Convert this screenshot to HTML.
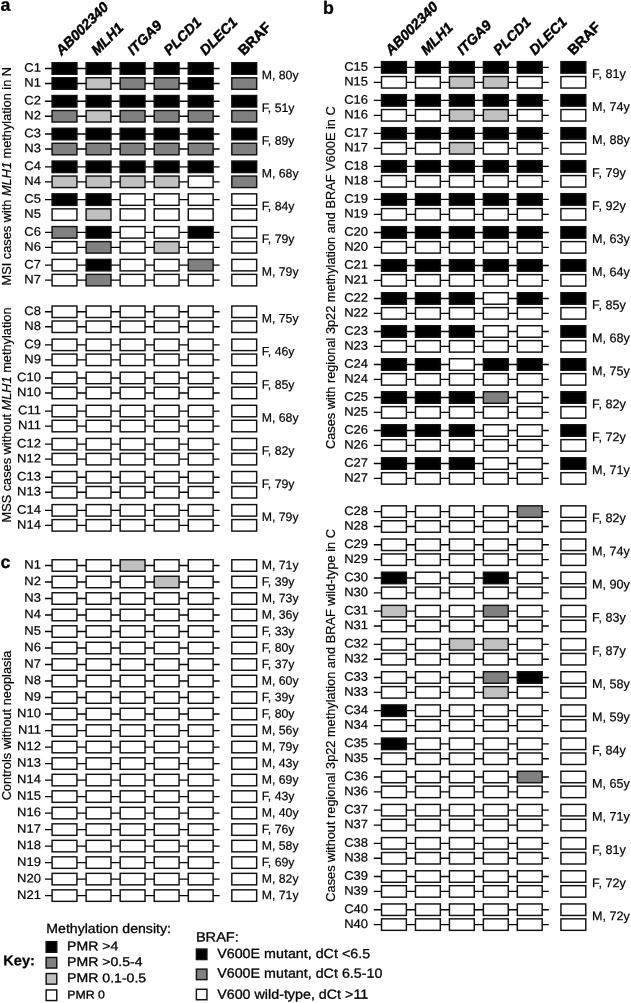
<!DOCTYPE html>
<html lang="en">
<head>
<meta charset="utf-8">
<title>Figure</title>
<style>
html,body{margin:0;padding:0;background:#fff;}
body{width:631px;height:1003px;overflow:hidden;}
svg{display:block;font-family:"Liberation Sans", Arial, Helvetica, sans-serif;}
.ln{stroke:#000;stroke-width:1.35;}
.bx{stroke:#111;stroke-width:1.45;}
.t{fill:#000;stroke:#000;stroke-width:0.2px;}
.rl{font-size:12.4px;}
.v{font-size:12.78px;fill:#000;stroke:#000;stroke-width:0.2px;}
.h{font-size:14.2px;font-weight:bold;fill:#000;stroke:#000;stroke-width:0.45px;}
.pl{font-size:17.8px;font-weight:bold;fill:#000;stroke:#000;stroke-width:0.3px;}
.k{fill:#000;stroke:#000;stroke-width:0.3px;}
.kb{font-weight:bold;fill:#000;stroke:#000;stroke-width:0.25px;}
</style>
</head>
<body>
<svg width="631" height="1003" viewBox="0 0 631 1003">
<rect x="0" y="0" width="631" height="1003" fill="#ffffff"/>
<line x1="45.00" y1="68.50" x2="219.60" y2="68.50" class="ln"/>
<rect x="52.08" y="62.75" width="24.85" height="11.5" fill="#000000" class="bx"/>
<rect x="86.12" y="62.75" width="24.85" height="11.5" fill="#000000" class="bx"/>
<rect x="120.17" y="62.75" width="24.85" height="11.5" fill="#000000" class="bx"/>
<rect x="154.22" y="62.75" width="24.85" height="11.5" fill="#000000" class="bx"/>
<rect x="188.27" y="62.75" width="24.85" height="11.5" fill="#000000" class="bx"/>
<rect x="231.82" y="62.75" width="24.85" height="11.5" fill="#000000" class="bx"/>
<text transform="translate(40.90,71.80) rotate(0.05) scale(1.05,1)" text-anchor="end" class="t rl">C1</text>
<line x1="45.00" y1="83.50" x2="219.60" y2="83.50" class="ln"/>
<rect x="52.08" y="77.75" width="24.85" height="11.5" fill="#000000" class="bx"/>
<rect x="86.12" y="77.75" width="24.85" height="11.5" fill="#c0c0c0" class="bx"/>
<rect x="120.17" y="77.75" width="24.85" height="11.5" fill="#808080" class="bx"/>
<rect x="154.22" y="77.75" width="24.85" height="11.5" fill="#808080" class="bx"/>
<rect x="188.27" y="77.75" width="24.85" height="11.5" fill="#000000" class="bx"/>
<rect x="231.82" y="77.75" width="24.85" height="11.5" fill="#808080" class="bx"/>
<text transform="translate(40.90,86.80) rotate(0.05) scale(1.05,1)" text-anchor="end" class="t rl">N1</text>
<text transform="translate(261.70,79.20) rotate(0.05)" class="t" font-size="12.3">M, 80y</text>
<line x1="45.00" y1="101.27" x2="219.60" y2="101.27" class="ln"/>
<rect x="52.08" y="95.52" width="24.85" height="11.5" fill="#000000" class="bx"/>
<rect x="86.12" y="95.52" width="24.85" height="11.5" fill="#000000" class="bx"/>
<rect x="120.17" y="95.52" width="24.85" height="11.5" fill="#000000" class="bx"/>
<rect x="154.22" y="95.52" width="24.85" height="11.5" fill="#000000" class="bx"/>
<rect x="188.27" y="95.52" width="24.85" height="11.5" fill="#000000" class="bx"/>
<rect x="231.82" y="95.52" width="24.85" height="11.5" fill="#000000" class="bx"/>
<text transform="translate(40.90,104.57) rotate(0.05) scale(1.05,1)" text-anchor="end" class="t rl">C2</text>
<line x1="45.00" y1="116.27" x2="219.60" y2="116.27" class="ln"/>
<rect x="52.08" y="110.52" width="24.85" height="11.5" fill="#808080" class="bx"/>
<rect x="86.12" y="110.52" width="24.85" height="11.5" fill="#c0c0c0" class="bx"/>
<rect x="120.17" y="110.52" width="24.85" height="11.5" fill="#808080" class="bx"/>
<rect x="154.22" y="110.52" width="24.85" height="11.5" fill="#808080" class="bx"/>
<rect x="188.27" y="110.52" width="24.85" height="11.5" fill="#808080" class="bx"/>
<rect x="231.82" y="110.52" width="24.85" height="11.5" fill="#808080" class="bx"/>
<text transform="translate(40.90,119.57) rotate(0.05) scale(1.05,1)" text-anchor="end" class="t rl">N2</text>
<text transform="translate(261.70,111.97) rotate(0.05)" class="t" font-size="12.3">F, 51y</text>
<line x1="45.00" y1="134.04" x2="219.60" y2="134.04" class="ln"/>
<rect x="52.08" y="128.29" width="24.85" height="11.5" fill="#000000" class="bx"/>
<rect x="86.12" y="128.29" width="24.85" height="11.5" fill="#000000" class="bx"/>
<rect x="120.17" y="128.29" width="24.85" height="11.5" fill="#000000" class="bx"/>
<rect x="154.22" y="128.29" width="24.85" height="11.5" fill="#000000" class="bx"/>
<rect x="188.27" y="128.29" width="24.85" height="11.5" fill="#000000" class="bx"/>
<rect x="231.82" y="128.29" width="24.85" height="11.5" fill="#000000" class="bx"/>
<text transform="translate(40.90,137.34) rotate(0.05) scale(1.05,1)" text-anchor="end" class="t rl">C3</text>
<line x1="45.00" y1="149.04" x2="219.60" y2="149.04" class="ln"/>
<rect x="52.08" y="143.29" width="24.85" height="11.5" fill="#808080" class="bx"/>
<rect x="86.12" y="143.29" width="24.85" height="11.5" fill="#808080" class="bx"/>
<rect x="120.17" y="143.29" width="24.85" height="11.5" fill="#808080" class="bx"/>
<rect x="154.22" y="143.29" width="24.85" height="11.5" fill="#808080" class="bx"/>
<rect x="188.27" y="143.29" width="24.85" height="11.5" fill="#808080" class="bx"/>
<rect x="231.82" y="143.29" width="24.85" height="11.5" fill="#808080" class="bx"/>
<text transform="translate(40.90,152.34) rotate(0.05) scale(1.05,1)" text-anchor="end" class="t rl">N3</text>
<text transform="translate(261.70,144.74) rotate(0.05)" class="t" font-size="12.3">F, 89y</text>
<line x1="45.00" y1="166.81" x2="219.60" y2="166.81" class="ln"/>
<rect x="52.08" y="161.06" width="24.85" height="11.5" fill="#000000" class="bx"/>
<rect x="86.12" y="161.06" width="24.85" height="11.5" fill="#000000" class="bx"/>
<rect x="120.17" y="161.06" width="24.85" height="11.5" fill="#000000" class="bx"/>
<rect x="154.22" y="161.06" width="24.85" height="11.5" fill="#000000" class="bx"/>
<rect x="188.27" y="161.06" width="24.85" height="11.5" fill="#000000" class="bx"/>
<rect x="231.82" y="161.06" width="24.85" height="11.5" fill="#000000" class="bx"/>
<text transform="translate(40.90,170.11) rotate(0.05) scale(1.05,1)" text-anchor="end" class="t rl">C4</text>
<line x1="45.00" y1="181.81" x2="219.60" y2="181.81" class="ln"/>
<rect x="52.08" y="176.06" width="24.85" height="11.5" fill="#c0c0c0" class="bx"/>
<rect x="86.12" y="176.06" width="24.85" height="11.5" fill="#c0c0c0" class="bx"/>
<rect x="120.17" y="176.06" width="24.85" height="11.5" fill="#c0c0c0" class="bx"/>
<rect x="154.22" y="176.06" width="24.85" height="11.5" fill="#c0c0c0" class="bx"/>
<rect x="188.27" y="176.06" width="24.85" height="11.5" fill="#ffffff" class="bx"/>
<rect x="231.82" y="176.06" width="24.85" height="11.5" fill="#808080" class="bx"/>
<text transform="translate(40.90,185.11) rotate(0.05) scale(1.05,1)" text-anchor="end" class="t rl">N4</text>
<text transform="translate(261.70,177.51) rotate(0.05)" class="t" font-size="12.3">M, 68y</text>
<line x1="45.00" y1="199.58" x2="219.60" y2="199.58" class="ln"/>
<rect x="52.08" y="193.83" width="24.85" height="11.5" fill="#000000" class="bx"/>
<rect x="86.12" y="193.83" width="24.85" height="11.5" fill="#000000" class="bx"/>
<rect x="120.17" y="193.83" width="24.85" height="11.5" fill="#ffffff" class="bx"/>
<rect x="154.22" y="193.83" width="24.85" height="11.5" fill="#ffffff" class="bx"/>
<rect x="188.27" y="193.83" width="24.85" height="11.5" fill="#ffffff" class="bx"/>
<rect x="231.82" y="193.83" width="24.85" height="11.5" fill="#ffffff" class="bx"/>
<text transform="translate(40.90,202.88) rotate(0.05) scale(1.05,1)" text-anchor="end" class="t rl">C5</text>
<rect x="52.08" y="208.83" width="24.85" height="11.5" fill="#ffffff" class="bx"/>
<rect x="86.12" y="208.83" width="24.85" height="11.5" fill="#c0c0c0" class="bx"/>
<rect x="120.17" y="208.83" width="24.85" height="11.5" fill="#ffffff" class="bx"/>
<rect x="154.22" y="208.83" width="24.85" height="11.5" fill="#ffffff" class="bx"/>
<rect x="188.27" y="208.83" width="24.85" height="11.5" fill="#ffffff" class="bx"/>
<rect x="231.82" y="208.83" width="24.85" height="11.5" fill="#ffffff" class="bx"/>
<text transform="translate(40.90,217.88) rotate(0.05) scale(1.05,1)" text-anchor="end" class="t rl">N5</text>
<text transform="translate(261.70,210.28) rotate(0.05)" class="t" font-size="12.3">F, 84y</text>
<line x1="45.00" y1="232.35" x2="219.60" y2="232.35" class="ln"/>
<rect x="52.08" y="226.60" width="24.85" height="11.5" fill="#808080" class="bx"/>
<rect x="86.12" y="226.60" width="24.85" height="11.5" fill="#000000" class="bx"/>
<rect x="120.17" y="226.60" width="24.85" height="11.5" fill="#ffffff" class="bx"/>
<rect x="154.22" y="226.60" width="24.85" height="11.5" fill="#ffffff" class="bx"/>
<rect x="188.27" y="226.60" width="24.85" height="11.5" fill="#000000" class="bx"/>
<rect x="231.82" y="226.60" width="24.85" height="11.5" fill="#ffffff" class="bx"/>
<text transform="translate(40.90,235.65) rotate(0.05) scale(1.05,1)" text-anchor="end" class="t rl">C6</text>
<line x1="45.00" y1="247.35" x2="219.60" y2="247.35" class="ln"/>
<rect x="52.08" y="241.60" width="24.85" height="11.5" fill="#ffffff" class="bx"/>
<rect x="86.12" y="241.60" width="24.85" height="11.5" fill="#808080" class="bx"/>
<rect x="120.17" y="241.60" width="24.85" height="11.5" fill="#ffffff" class="bx"/>
<rect x="154.22" y="241.60" width="24.85" height="11.5" fill="#c0c0c0" class="bx"/>
<rect x="188.27" y="241.60" width="24.85" height="11.5" fill="#ffffff" class="bx"/>
<rect x="231.82" y="241.60" width="24.85" height="11.5" fill="#ffffff" class="bx"/>
<text transform="translate(40.90,250.65) rotate(0.05) scale(1.05,1)" text-anchor="end" class="t rl">N6</text>
<text transform="translate(261.70,243.05) rotate(0.05)" class="t" font-size="12.3">F, 79y</text>
<line x1="45.00" y1="265.12" x2="219.60" y2="265.12" class="ln"/>
<rect x="52.08" y="259.37" width="24.85" height="11.5" fill="#ffffff" class="bx"/>
<rect x="86.12" y="259.37" width="24.85" height="11.5" fill="#000000" class="bx"/>
<rect x="120.17" y="259.37" width="24.85" height="11.5" fill="#ffffff" class="bx"/>
<rect x="154.22" y="259.37" width="24.85" height="11.5" fill="#ffffff" class="bx"/>
<rect x="188.27" y="259.37" width="24.85" height="11.5" fill="#808080" class="bx"/>
<rect x="231.82" y="259.37" width="24.85" height="11.5" fill="#ffffff" class="bx"/>
<text transform="translate(40.90,268.42) rotate(0.05) scale(1.05,1)" text-anchor="end" class="t rl">C7</text>
<line x1="45.00" y1="280.12" x2="219.60" y2="280.12" class="ln"/>
<rect x="52.08" y="274.37" width="24.85" height="11.5" fill="#ffffff" class="bx"/>
<rect x="86.12" y="274.37" width="24.85" height="11.5" fill="#808080" class="bx"/>
<rect x="120.17" y="274.37" width="24.85" height="11.5" fill="#ffffff" class="bx"/>
<rect x="154.22" y="274.37" width="24.85" height="11.5" fill="#ffffff" class="bx"/>
<rect x="188.27" y="274.37" width="24.85" height="11.5" fill="#ffffff" class="bx"/>
<rect x="231.82" y="274.37" width="24.85" height="11.5" fill="#ffffff" class="bx"/>
<text transform="translate(40.90,283.42) rotate(0.05) scale(1.05,1)" text-anchor="end" class="t rl">N7</text>
<text transform="translate(261.70,275.82) rotate(0.05)" class="t" font-size="12.3">M, 79y</text>
<line x1="45.00" y1="311.75" x2="219.60" y2="311.75" class="ln"/>
<rect x="52.08" y="306.00" width="24.85" height="11.5" fill="#ffffff" class="bx"/>
<rect x="86.12" y="306.00" width="24.85" height="11.5" fill="#ffffff" class="bx"/>
<rect x="120.17" y="306.00" width="24.85" height="11.5" fill="#ffffff" class="bx"/>
<rect x="154.22" y="306.00" width="24.85" height="11.5" fill="#ffffff" class="bx"/>
<rect x="188.27" y="306.00" width="24.85" height="11.5" fill="#ffffff" class="bx"/>
<rect x="231.82" y="306.00" width="24.85" height="11.5" fill="#ffffff" class="bx"/>
<text transform="translate(40.90,315.05) rotate(0.05) scale(1.05,1)" text-anchor="end" class="t rl">C8</text>
<line x1="45.00" y1="326.75" x2="219.60" y2="326.75" class="ln"/>
<rect x="52.08" y="321.00" width="24.85" height="11.5" fill="#ffffff" class="bx"/>
<rect x="86.12" y="321.00" width="24.85" height="11.5" fill="#ffffff" class="bx"/>
<rect x="120.17" y="321.00" width="24.85" height="11.5" fill="#ffffff" class="bx"/>
<rect x="154.22" y="321.00" width="24.85" height="11.5" fill="#ffffff" class="bx"/>
<rect x="188.27" y="321.00" width="24.85" height="11.5" fill="#ffffff" class="bx"/>
<rect x="231.82" y="321.00" width="24.85" height="11.5" fill="#ffffff" class="bx"/>
<text transform="translate(40.90,330.05) rotate(0.05) scale(1.05,1)" text-anchor="end" class="t rl">N8</text>
<text transform="translate(261.70,322.45) rotate(0.05)" class="t" font-size="12.3">M, 75y</text>
<line x1="45.00" y1="344.85" x2="219.60" y2="344.85" class="ln"/>
<rect x="52.08" y="339.10" width="24.85" height="11.5" fill="#ffffff" class="bx"/>
<rect x="86.12" y="339.10" width="24.85" height="11.5" fill="#ffffff" class="bx"/>
<rect x="120.17" y="339.10" width="24.85" height="11.5" fill="#ffffff" class="bx"/>
<rect x="154.22" y="339.10" width="24.85" height="11.5" fill="#ffffff" class="bx"/>
<rect x="188.27" y="339.10" width="24.85" height="11.5" fill="#ffffff" class="bx"/>
<rect x="231.82" y="339.10" width="24.85" height="11.5" fill="#ffffff" class="bx"/>
<text transform="translate(40.90,348.15) rotate(0.05) scale(1.05,1)" text-anchor="end" class="t rl">C9</text>
<line x1="45.00" y1="359.85" x2="219.60" y2="359.85" class="ln"/>
<rect x="52.08" y="354.10" width="24.85" height="11.5" fill="#ffffff" class="bx"/>
<rect x="86.12" y="354.10" width="24.85" height="11.5" fill="#ffffff" class="bx"/>
<rect x="120.17" y="354.10" width="24.85" height="11.5" fill="#ffffff" class="bx"/>
<rect x="154.22" y="354.10" width="24.85" height="11.5" fill="#ffffff" class="bx"/>
<rect x="188.27" y="354.10" width="24.85" height="11.5" fill="#ffffff" class="bx"/>
<rect x="231.82" y="354.10" width="24.85" height="11.5" fill="#ffffff" class="bx"/>
<text transform="translate(40.90,363.15) rotate(0.05) scale(1.05,1)" text-anchor="end" class="t rl">N9</text>
<text transform="translate(261.70,355.55) rotate(0.05)" class="t" font-size="12.3">F, 46y</text>
<line x1="45.00" y1="377.95" x2="219.60" y2="377.95" class="ln"/>
<rect x="52.08" y="372.20" width="24.85" height="11.5" fill="#ffffff" class="bx"/>
<rect x="86.12" y="372.20" width="24.85" height="11.5" fill="#ffffff" class="bx"/>
<rect x="120.17" y="372.20" width="24.85" height="11.5" fill="#ffffff" class="bx"/>
<rect x="154.22" y="372.20" width="24.85" height="11.5" fill="#ffffff" class="bx"/>
<rect x="188.27" y="372.20" width="24.85" height="11.5" fill="#ffffff" class="bx"/>
<rect x="231.82" y="372.20" width="24.85" height="11.5" fill="#ffffff" class="bx"/>
<text transform="translate(40.90,381.25) rotate(0.05) scale(1.05,1)" text-anchor="end" class="t rl">C10</text>
<line x1="45.00" y1="392.95" x2="219.60" y2="392.95" class="ln"/>
<rect x="52.08" y="387.20" width="24.85" height="11.5" fill="#ffffff" class="bx"/>
<rect x="86.12" y="387.20" width="24.85" height="11.5" fill="#ffffff" class="bx"/>
<rect x="120.17" y="387.20" width="24.85" height="11.5" fill="#ffffff" class="bx"/>
<rect x="154.22" y="387.20" width="24.85" height="11.5" fill="#ffffff" class="bx"/>
<rect x="188.27" y="387.20" width="24.85" height="11.5" fill="#ffffff" class="bx"/>
<rect x="231.82" y="387.20" width="24.85" height="11.5" fill="#ffffff" class="bx"/>
<text transform="translate(40.90,396.25) rotate(0.05) scale(1.05,1)" text-anchor="end" class="t rl">N10</text>
<text transform="translate(261.70,388.65) rotate(0.05)" class="t" font-size="12.3">F, 85y</text>
<line x1="45.00" y1="411.05" x2="219.60" y2="411.05" class="ln"/>
<rect x="52.08" y="405.30" width="24.85" height="11.5" fill="#ffffff" class="bx"/>
<rect x="86.12" y="405.30" width="24.85" height="11.5" fill="#ffffff" class="bx"/>
<rect x="120.17" y="405.30" width="24.85" height="11.5" fill="#ffffff" class="bx"/>
<rect x="154.22" y="405.30" width="24.85" height="11.5" fill="#ffffff" class="bx"/>
<rect x="188.27" y="405.30" width="24.85" height="11.5" fill="#ffffff" class="bx"/>
<rect x="231.82" y="405.30" width="24.85" height="11.5" fill="#ffffff" class="bx"/>
<text transform="translate(40.90,414.35) rotate(0.05) scale(1.05,1)" text-anchor="end" class="t rl">C11</text>
<line x1="45.00" y1="426.05" x2="219.60" y2="426.05" class="ln"/>
<rect x="52.08" y="420.30" width="24.85" height="11.5" fill="#ffffff" class="bx"/>
<rect x="86.12" y="420.30" width="24.85" height="11.5" fill="#ffffff" class="bx"/>
<rect x="120.17" y="420.30" width="24.85" height="11.5" fill="#ffffff" class="bx"/>
<rect x="154.22" y="420.30" width="24.85" height="11.5" fill="#ffffff" class="bx"/>
<rect x="188.27" y="420.30" width="24.85" height="11.5" fill="#ffffff" class="bx"/>
<rect x="231.82" y="420.30" width="24.85" height="11.5" fill="#ffffff" class="bx"/>
<text transform="translate(40.90,429.35) rotate(0.05) scale(1.05,1)" text-anchor="end" class="t rl">N11</text>
<text transform="translate(261.70,421.75) rotate(0.05)" class="t" font-size="12.3">M, 68y</text>
<line x1="45.00" y1="444.15" x2="219.60" y2="444.15" class="ln"/>
<rect x="52.08" y="438.40" width="24.85" height="11.5" fill="#ffffff" class="bx"/>
<rect x="86.12" y="438.40" width="24.85" height="11.5" fill="#ffffff" class="bx"/>
<rect x="120.17" y="438.40" width="24.85" height="11.5" fill="#ffffff" class="bx"/>
<rect x="154.22" y="438.40" width="24.85" height="11.5" fill="#ffffff" class="bx"/>
<rect x="188.27" y="438.40" width="24.85" height="11.5" fill="#ffffff" class="bx"/>
<rect x="231.82" y="438.40" width="24.85" height="11.5" fill="#ffffff" class="bx"/>
<text transform="translate(40.90,447.45) rotate(0.05) scale(1.05,1)" text-anchor="end" class="t rl">C12</text>
<line x1="45.00" y1="459.15" x2="219.60" y2="459.15" class="ln"/>
<rect x="52.08" y="453.40" width="24.85" height="11.5" fill="#ffffff" class="bx"/>
<rect x="86.12" y="453.40" width="24.85" height="11.5" fill="#ffffff" class="bx"/>
<rect x="120.17" y="453.40" width="24.85" height="11.5" fill="#ffffff" class="bx"/>
<rect x="154.22" y="453.40" width="24.85" height="11.5" fill="#ffffff" class="bx"/>
<rect x="188.27" y="453.40" width="24.85" height="11.5" fill="#ffffff" class="bx"/>
<rect x="231.82" y="453.40" width="24.85" height="11.5" fill="#ffffff" class="bx"/>
<text transform="translate(40.90,462.45) rotate(0.05) scale(1.05,1)" text-anchor="end" class="t rl">N12</text>
<text transform="translate(261.70,454.85) rotate(0.05)" class="t" font-size="12.3">F, 82y</text>
<line x1="45.00" y1="477.25" x2="219.60" y2="477.25" class="ln"/>
<rect x="52.08" y="471.50" width="24.85" height="11.5" fill="#ffffff" class="bx"/>
<rect x="86.12" y="471.50" width="24.85" height="11.5" fill="#ffffff" class="bx"/>
<rect x="120.17" y="471.50" width="24.85" height="11.5" fill="#ffffff" class="bx"/>
<rect x="154.22" y="471.50" width="24.85" height="11.5" fill="#ffffff" class="bx"/>
<rect x="188.27" y="471.50" width="24.85" height="11.5" fill="#ffffff" class="bx"/>
<rect x="231.82" y="471.50" width="24.85" height="11.5" fill="#ffffff" class="bx"/>
<text transform="translate(40.90,480.55) rotate(0.05) scale(1.05,1)" text-anchor="end" class="t rl">C13</text>
<line x1="45.00" y1="492.25" x2="219.60" y2="492.25" class="ln"/>
<rect x="52.08" y="486.50" width="24.85" height="11.5" fill="#ffffff" class="bx"/>
<rect x="86.12" y="486.50" width="24.85" height="11.5" fill="#ffffff" class="bx"/>
<rect x="120.17" y="486.50" width="24.85" height="11.5" fill="#ffffff" class="bx"/>
<rect x="154.22" y="486.50" width="24.85" height="11.5" fill="#ffffff" class="bx"/>
<rect x="188.27" y="486.50" width="24.85" height="11.5" fill="#ffffff" class="bx"/>
<rect x="231.82" y="486.50" width="24.85" height="11.5" fill="#ffffff" class="bx"/>
<text transform="translate(40.90,495.55) rotate(0.05) scale(1.05,1)" text-anchor="end" class="t rl">N13</text>
<text transform="translate(261.70,487.95) rotate(0.05)" class="t" font-size="12.3">F, 79y</text>
<line x1="45.00" y1="510.35" x2="219.60" y2="510.35" class="ln"/>
<rect x="52.08" y="504.60" width="24.85" height="11.5" fill="#ffffff" class="bx"/>
<rect x="86.12" y="504.60" width="24.85" height="11.5" fill="#ffffff" class="bx"/>
<rect x="120.17" y="504.60" width="24.85" height="11.5" fill="#ffffff" class="bx"/>
<rect x="154.22" y="504.60" width="24.85" height="11.5" fill="#ffffff" class="bx"/>
<rect x="188.27" y="504.60" width="24.85" height="11.5" fill="#ffffff" class="bx"/>
<rect x="231.82" y="504.60" width="24.85" height="11.5" fill="#ffffff" class="bx"/>
<text transform="translate(40.90,513.65) rotate(0.05) scale(1.05,1)" text-anchor="end" class="t rl">C14</text>
<line x1="45.00" y1="525.35" x2="219.60" y2="525.35" class="ln"/>
<rect x="52.08" y="519.60" width="24.85" height="11.5" fill="#ffffff" class="bx"/>
<rect x="86.12" y="519.60" width="24.85" height="11.5" fill="#ffffff" class="bx"/>
<rect x="120.17" y="519.60" width="24.85" height="11.5" fill="#ffffff" class="bx"/>
<rect x="154.22" y="519.60" width="24.85" height="11.5" fill="#ffffff" class="bx"/>
<rect x="188.27" y="519.60" width="24.85" height="11.5" fill="#ffffff" class="bx"/>
<rect x="231.82" y="519.60" width="24.85" height="11.5" fill="#ffffff" class="bx"/>
<text transform="translate(40.90,528.65) rotate(0.05) scale(1.05,1)" text-anchor="end" class="t rl">N14</text>
<text transform="translate(261.70,521.05) rotate(0.05)" class="t" font-size="12.3">M, 79y</text>
<line x1="45.00" y1="565.50" x2="219.60" y2="565.50" class="ln"/>
<rect x="52.08" y="559.75" width="24.85" height="11.5" fill="#ffffff" class="bx"/>
<rect x="86.12" y="559.75" width="24.85" height="11.5" fill="#ffffff" class="bx"/>
<rect x="120.17" y="559.75" width="24.85" height="11.5" fill="#c0c0c0" class="bx"/>
<rect x="154.22" y="559.75" width="24.85" height="11.5" fill="#ffffff" class="bx"/>
<rect x="188.27" y="559.75" width="24.85" height="11.5" fill="#ffffff" class="bx"/>
<rect x="231.82" y="559.75" width="24.85" height="11.5" fill="#ffffff" class="bx"/>
<text transform="translate(40.90,568.80) rotate(0.05) scale(1.05,1)" text-anchor="end" class="t rl">N1</text>
<text transform="translate(261.70,569.20) rotate(0.05)" class="t" font-size="12.3">M, 71y</text>
<line x1="45.00" y1="582.00" x2="219.60" y2="582.00" class="ln"/>
<rect x="52.08" y="576.25" width="24.85" height="11.5" fill="#ffffff" class="bx"/>
<rect x="86.12" y="576.25" width="24.85" height="11.5" fill="#ffffff" class="bx"/>
<rect x="120.17" y="576.25" width="24.85" height="11.5" fill="#ffffff" class="bx"/>
<rect x="154.22" y="576.25" width="24.85" height="11.5" fill="#c0c0c0" class="bx"/>
<rect x="188.27" y="576.25" width="24.85" height="11.5" fill="#ffffff" class="bx"/>
<rect x="231.82" y="576.25" width="24.85" height="11.5" fill="#ffffff" class="bx"/>
<text transform="translate(40.90,585.30) rotate(0.05) scale(1.05,1)" text-anchor="end" class="t rl">N2</text>
<text transform="translate(261.70,585.71) rotate(0.05)" class="t" font-size="12.3">F, 39y</text>
<line x1="45.00" y1="598.51" x2="219.60" y2="598.51" class="ln"/>
<rect x="52.08" y="592.76" width="24.85" height="11.5" fill="#ffffff" class="bx"/>
<rect x="86.12" y="592.76" width="24.85" height="11.5" fill="#ffffff" class="bx"/>
<rect x="120.17" y="592.76" width="24.85" height="11.5" fill="#ffffff" class="bx"/>
<rect x="154.22" y="592.76" width="24.85" height="11.5" fill="#ffffff" class="bx"/>
<rect x="188.27" y="592.76" width="24.85" height="11.5" fill="#ffffff" class="bx"/>
<rect x="231.82" y="592.76" width="24.85" height="11.5" fill="#ffffff" class="bx"/>
<text transform="translate(40.90,601.81) rotate(0.05) scale(1.05,1)" text-anchor="end" class="t rl">N3</text>
<text transform="translate(261.70,602.21) rotate(0.05)" class="t" font-size="12.3">M, 73y</text>
<line x1="45.00" y1="615.01" x2="219.60" y2="615.01" class="ln"/>
<rect x="52.08" y="609.26" width="24.85" height="11.5" fill="#ffffff" class="bx"/>
<rect x="86.12" y="609.26" width="24.85" height="11.5" fill="#ffffff" class="bx"/>
<rect x="120.17" y="609.26" width="24.85" height="11.5" fill="#ffffff" class="bx"/>
<rect x="154.22" y="609.26" width="24.85" height="11.5" fill="#ffffff" class="bx"/>
<rect x="188.27" y="609.26" width="24.85" height="11.5" fill="#ffffff" class="bx"/>
<rect x="231.82" y="609.26" width="24.85" height="11.5" fill="#ffffff" class="bx"/>
<text transform="translate(40.90,618.31) rotate(0.05) scale(1.05,1)" text-anchor="end" class="t rl">N4</text>
<text transform="translate(261.70,618.72) rotate(0.05)" class="t" font-size="12.3">M, 36y</text>
<line x1="45.00" y1="631.52" x2="219.60" y2="631.52" class="ln"/>
<rect x="52.08" y="625.77" width="24.85" height="11.5" fill="#ffffff" class="bx"/>
<rect x="86.12" y="625.77" width="24.85" height="11.5" fill="#ffffff" class="bx"/>
<rect x="120.17" y="625.77" width="24.85" height="11.5" fill="#ffffff" class="bx"/>
<rect x="154.22" y="625.77" width="24.85" height="11.5" fill="#ffffff" class="bx"/>
<rect x="188.27" y="625.77" width="24.85" height="11.5" fill="#ffffff" class="bx"/>
<rect x="231.82" y="625.77" width="24.85" height="11.5" fill="#ffffff" class="bx"/>
<text transform="translate(40.90,634.82) rotate(0.05) scale(1.05,1)" text-anchor="end" class="t rl">N5</text>
<text transform="translate(261.70,635.22) rotate(0.05)" class="t" font-size="12.3">F, 33y</text>
<line x1="45.00" y1="648.02" x2="219.60" y2="648.02" class="ln"/>
<rect x="52.08" y="642.27" width="24.85" height="11.5" fill="#ffffff" class="bx"/>
<rect x="86.12" y="642.27" width="24.85" height="11.5" fill="#ffffff" class="bx"/>
<rect x="120.17" y="642.27" width="24.85" height="11.5" fill="#ffffff" class="bx"/>
<rect x="154.22" y="642.27" width="24.85" height="11.5" fill="#ffffff" class="bx"/>
<rect x="188.27" y="642.27" width="24.85" height="11.5" fill="#ffffff" class="bx"/>
<rect x="231.82" y="642.27" width="24.85" height="11.5" fill="#ffffff" class="bx"/>
<text transform="translate(40.90,651.32) rotate(0.05) scale(1.05,1)" text-anchor="end" class="t rl">N6</text>
<text transform="translate(261.70,651.73) rotate(0.05)" class="t" font-size="12.3">F, 80y</text>
<line x1="45.00" y1="664.53" x2="219.60" y2="664.53" class="ln"/>
<rect x="52.08" y="658.78" width="24.85" height="11.5" fill="#ffffff" class="bx"/>
<rect x="86.12" y="658.78" width="24.85" height="11.5" fill="#ffffff" class="bx"/>
<rect x="120.17" y="658.78" width="24.85" height="11.5" fill="#ffffff" class="bx"/>
<rect x="154.22" y="658.78" width="24.85" height="11.5" fill="#ffffff" class="bx"/>
<rect x="188.27" y="658.78" width="24.85" height="11.5" fill="#ffffff" class="bx"/>
<rect x="231.82" y="658.78" width="24.85" height="11.5" fill="#ffffff" class="bx"/>
<text transform="translate(40.90,667.83) rotate(0.05) scale(1.05,1)" text-anchor="end" class="t rl">N7</text>
<text transform="translate(261.70,668.23) rotate(0.05)" class="t" font-size="12.3">F, 37y</text>
<line x1="45.00" y1="681.03" x2="219.60" y2="681.03" class="ln"/>
<rect x="52.08" y="675.28" width="24.85" height="11.5" fill="#ffffff" class="bx"/>
<rect x="86.12" y="675.28" width="24.85" height="11.5" fill="#ffffff" class="bx"/>
<rect x="120.17" y="675.28" width="24.85" height="11.5" fill="#ffffff" class="bx"/>
<rect x="154.22" y="675.28" width="24.85" height="11.5" fill="#ffffff" class="bx"/>
<rect x="188.27" y="675.28" width="24.85" height="11.5" fill="#ffffff" class="bx"/>
<rect x="231.82" y="675.28" width="24.85" height="11.5" fill="#ffffff" class="bx"/>
<text transform="translate(40.90,684.33) rotate(0.05) scale(1.05,1)" text-anchor="end" class="t rl">N8</text>
<text transform="translate(261.70,684.74) rotate(0.05)" class="t" font-size="12.3">M, 60y</text>
<line x1="45.00" y1="697.54" x2="219.60" y2="697.54" class="ln"/>
<rect x="52.08" y="691.79" width="24.85" height="11.5" fill="#ffffff" class="bx"/>
<rect x="86.12" y="691.79" width="24.85" height="11.5" fill="#ffffff" class="bx"/>
<rect x="120.17" y="691.79" width="24.85" height="11.5" fill="#ffffff" class="bx"/>
<rect x="154.22" y="691.79" width="24.85" height="11.5" fill="#ffffff" class="bx"/>
<rect x="188.27" y="691.79" width="24.85" height="11.5" fill="#ffffff" class="bx"/>
<rect x="231.82" y="691.79" width="24.85" height="11.5" fill="#ffffff" class="bx"/>
<text transform="translate(40.90,700.84) rotate(0.05) scale(1.05,1)" text-anchor="end" class="t rl">N9</text>
<text transform="translate(261.70,701.24) rotate(0.05)" class="t" font-size="12.3">F, 39y</text>
<line x1="45.00" y1="714.04" x2="219.60" y2="714.04" class="ln"/>
<rect x="52.08" y="708.29" width="24.85" height="11.5" fill="#ffffff" class="bx"/>
<rect x="86.12" y="708.29" width="24.85" height="11.5" fill="#ffffff" class="bx"/>
<rect x="120.17" y="708.29" width="24.85" height="11.5" fill="#ffffff" class="bx"/>
<rect x="154.22" y="708.29" width="24.85" height="11.5" fill="#ffffff" class="bx"/>
<rect x="188.27" y="708.29" width="24.85" height="11.5" fill="#ffffff" class="bx"/>
<rect x="231.82" y="708.29" width="24.85" height="11.5" fill="#ffffff" class="bx"/>
<text transform="translate(40.90,717.34) rotate(0.05) scale(1.05,1)" text-anchor="end" class="t rl">N10</text>
<text transform="translate(261.70,717.75) rotate(0.05)" class="t" font-size="12.3">F, 80y</text>
<line x1="45.00" y1="730.55" x2="219.60" y2="730.55" class="ln"/>
<rect x="52.08" y="724.80" width="24.85" height="11.5" fill="#ffffff" class="bx"/>
<rect x="86.12" y="724.80" width="24.85" height="11.5" fill="#ffffff" class="bx"/>
<rect x="120.17" y="724.80" width="24.85" height="11.5" fill="#ffffff" class="bx"/>
<rect x="154.22" y="724.80" width="24.85" height="11.5" fill="#ffffff" class="bx"/>
<rect x="188.27" y="724.80" width="24.85" height="11.5" fill="#ffffff" class="bx"/>
<rect x="231.82" y="724.80" width="24.85" height="11.5" fill="#ffffff" class="bx"/>
<text transform="translate(40.90,733.85) rotate(0.05) scale(1.05,1)" text-anchor="end" class="t rl">N11</text>
<text transform="translate(261.70,734.25) rotate(0.05)" class="t" font-size="12.3">M, 56y</text>
<line x1="45.00" y1="747.05" x2="219.60" y2="747.05" class="ln"/>
<rect x="52.08" y="741.30" width="24.85" height="11.5" fill="#ffffff" class="bx"/>
<rect x="86.12" y="741.30" width="24.85" height="11.5" fill="#ffffff" class="bx"/>
<rect x="120.17" y="741.30" width="24.85" height="11.5" fill="#ffffff" class="bx"/>
<rect x="154.22" y="741.30" width="24.85" height="11.5" fill="#ffffff" class="bx"/>
<rect x="188.27" y="741.30" width="24.85" height="11.5" fill="#ffffff" class="bx"/>
<rect x="231.82" y="741.30" width="24.85" height="11.5" fill="#ffffff" class="bx"/>
<text transform="translate(40.90,750.35) rotate(0.05) scale(1.05,1)" text-anchor="end" class="t rl">N12</text>
<text transform="translate(261.70,750.75) rotate(0.05)" class="t" font-size="12.3">M, 79y</text>
<line x1="45.00" y1="763.56" x2="219.60" y2="763.56" class="ln"/>
<rect x="52.08" y="757.81" width="24.85" height="11.5" fill="#ffffff" class="bx"/>
<rect x="86.12" y="757.81" width="24.85" height="11.5" fill="#ffffff" class="bx"/>
<rect x="120.17" y="757.81" width="24.85" height="11.5" fill="#ffffff" class="bx"/>
<rect x="154.22" y="757.81" width="24.85" height="11.5" fill="#ffffff" class="bx"/>
<rect x="188.27" y="757.81" width="24.85" height="11.5" fill="#ffffff" class="bx"/>
<rect x="231.82" y="757.81" width="24.85" height="11.5" fill="#ffffff" class="bx"/>
<text transform="translate(40.90,766.86) rotate(0.05) scale(1.05,1)" text-anchor="end" class="t rl">N13</text>
<text transform="translate(261.70,767.26) rotate(0.05)" class="t" font-size="12.3">M, 43y</text>
<line x1="45.00" y1="780.07" x2="219.60" y2="780.07" class="ln"/>
<rect x="52.08" y="774.32" width="24.85" height="11.5" fill="#ffffff" class="bx"/>
<rect x="86.12" y="774.32" width="24.85" height="11.5" fill="#ffffff" class="bx"/>
<rect x="120.17" y="774.32" width="24.85" height="11.5" fill="#ffffff" class="bx"/>
<rect x="154.22" y="774.32" width="24.85" height="11.5" fill="#ffffff" class="bx"/>
<rect x="188.27" y="774.32" width="24.85" height="11.5" fill="#ffffff" class="bx"/>
<rect x="231.82" y="774.32" width="24.85" height="11.5" fill="#ffffff" class="bx"/>
<text transform="translate(40.90,783.37) rotate(0.05) scale(1.05,1)" text-anchor="end" class="t rl">N14</text>
<text transform="translate(261.70,783.77) rotate(0.05)" class="t" font-size="12.3">M, 69y</text>
<line x1="45.00" y1="796.57" x2="219.60" y2="796.57" class="ln"/>
<rect x="52.08" y="790.82" width="24.85" height="11.5" fill="#ffffff" class="bx"/>
<rect x="86.12" y="790.82" width="24.85" height="11.5" fill="#ffffff" class="bx"/>
<rect x="120.17" y="790.82" width="24.85" height="11.5" fill="#ffffff" class="bx"/>
<rect x="154.22" y="790.82" width="24.85" height="11.5" fill="#ffffff" class="bx"/>
<rect x="188.27" y="790.82" width="24.85" height="11.5" fill="#ffffff" class="bx"/>
<rect x="231.82" y="790.82" width="24.85" height="11.5" fill="#ffffff" class="bx"/>
<text transform="translate(40.90,799.87) rotate(0.05) scale(1.05,1)" text-anchor="end" class="t rl">N15</text>
<text transform="translate(261.70,800.27) rotate(0.05)" class="t" font-size="12.3">F, 43y</text>
<line x1="45.00" y1="813.08" x2="219.60" y2="813.08" class="ln"/>
<rect x="52.08" y="807.33" width="24.85" height="11.5" fill="#ffffff" class="bx"/>
<rect x="86.12" y="807.33" width="24.85" height="11.5" fill="#ffffff" class="bx"/>
<rect x="120.17" y="807.33" width="24.85" height="11.5" fill="#ffffff" class="bx"/>
<rect x="154.22" y="807.33" width="24.85" height="11.5" fill="#ffffff" class="bx"/>
<rect x="188.27" y="807.33" width="24.85" height="11.5" fill="#ffffff" class="bx"/>
<rect x="231.82" y="807.33" width="24.85" height="11.5" fill="#ffffff" class="bx"/>
<text transform="translate(40.90,816.38) rotate(0.05) scale(1.05,1)" text-anchor="end" class="t rl">N16</text>
<text transform="translate(261.70,816.78) rotate(0.05)" class="t" font-size="12.3">M, 40y</text>
<line x1="45.00" y1="829.58" x2="219.60" y2="829.58" class="ln"/>
<rect x="52.08" y="823.83" width="24.85" height="11.5" fill="#ffffff" class="bx"/>
<rect x="86.12" y="823.83" width="24.85" height="11.5" fill="#ffffff" class="bx"/>
<rect x="120.17" y="823.83" width="24.85" height="11.5" fill="#ffffff" class="bx"/>
<rect x="154.22" y="823.83" width="24.85" height="11.5" fill="#ffffff" class="bx"/>
<rect x="188.27" y="823.83" width="24.85" height="11.5" fill="#ffffff" class="bx"/>
<rect x="231.82" y="823.83" width="24.85" height="11.5" fill="#ffffff" class="bx"/>
<text transform="translate(40.90,832.88) rotate(0.05) scale(1.05,1)" text-anchor="end" class="t rl">N17</text>
<text transform="translate(261.70,833.28) rotate(0.05)" class="t" font-size="12.3">F, 76y</text>
<line x1="45.00" y1="846.09" x2="219.60" y2="846.09" class="ln"/>
<rect x="52.08" y="840.34" width="24.85" height="11.5" fill="#ffffff" class="bx"/>
<rect x="86.12" y="840.34" width="24.85" height="11.5" fill="#ffffff" class="bx"/>
<rect x="120.17" y="840.34" width="24.85" height="11.5" fill="#ffffff" class="bx"/>
<rect x="154.22" y="840.34" width="24.85" height="11.5" fill="#ffffff" class="bx"/>
<rect x="188.27" y="840.34" width="24.85" height="11.5" fill="#ffffff" class="bx"/>
<rect x="231.82" y="840.34" width="24.85" height="11.5" fill="#ffffff" class="bx"/>
<text transform="translate(40.90,849.38) rotate(0.05) scale(1.05,1)" text-anchor="end" class="t rl">N18</text>
<text transform="translate(261.70,849.79) rotate(0.05)" class="t" font-size="12.3">M, 58y</text>
<line x1="45.00" y1="862.59" x2="219.60" y2="862.59" class="ln"/>
<rect x="52.08" y="856.84" width="24.85" height="11.5" fill="#ffffff" class="bx"/>
<rect x="86.12" y="856.84" width="24.85" height="11.5" fill="#ffffff" class="bx"/>
<rect x="120.17" y="856.84" width="24.85" height="11.5" fill="#ffffff" class="bx"/>
<rect x="154.22" y="856.84" width="24.85" height="11.5" fill="#ffffff" class="bx"/>
<rect x="188.27" y="856.84" width="24.85" height="11.5" fill="#ffffff" class="bx"/>
<rect x="231.82" y="856.84" width="24.85" height="11.5" fill="#ffffff" class="bx"/>
<text transform="translate(40.90,865.89) rotate(0.05) scale(1.05,1)" text-anchor="end" class="t rl">N19</text>
<text transform="translate(261.70,866.29) rotate(0.05)" class="t" font-size="12.3">F, 69y</text>
<line x1="45.00" y1="879.10" x2="219.60" y2="879.10" class="ln"/>
<rect x="52.08" y="873.35" width="24.85" height="11.5" fill="#ffffff" class="bx"/>
<rect x="86.12" y="873.35" width="24.85" height="11.5" fill="#ffffff" class="bx"/>
<rect x="120.17" y="873.35" width="24.85" height="11.5" fill="#ffffff" class="bx"/>
<rect x="154.22" y="873.35" width="24.85" height="11.5" fill="#ffffff" class="bx"/>
<rect x="188.27" y="873.35" width="24.85" height="11.5" fill="#ffffff" class="bx"/>
<rect x="231.82" y="873.35" width="24.85" height="11.5" fill="#ffffff" class="bx"/>
<text transform="translate(40.90,882.39) rotate(0.05) scale(1.05,1)" text-anchor="end" class="t rl">N20</text>
<text transform="translate(261.70,882.80) rotate(0.05)" class="t" font-size="12.3">M, 82y</text>
<line x1="45.00" y1="895.60" x2="219.60" y2="895.60" class="ln"/>
<rect x="52.08" y="889.85" width="24.85" height="11.5" fill="#ffffff" class="bx"/>
<rect x="86.12" y="889.85" width="24.85" height="11.5" fill="#ffffff" class="bx"/>
<rect x="120.17" y="889.85" width="24.85" height="11.5" fill="#ffffff" class="bx"/>
<rect x="154.22" y="889.85" width="24.85" height="11.5" fill="#ffffff" class="bx"/>
<rect x="188.27" y="889.85" width="24.85" height="11.5" fill="#ffffff" class="bx"/>
<rect x="231.82" y="889.85" width="24.85" height="11.5" fill="#ffffff" class="bx"/>
<text transform="translate(40.90,898.90) rotate(0.05) scale(1.05,1)" text-anchor="end" class="t rl">N21</text>
<text transform="translate(261.70,899.30) rotate(0.05)" class="t" font-size="12.3">M, 71y</text>
<line x1="373.80" y1="67.40" x2="548.80" y2="67.40" class="ln"/>
<rect x="381.53" y="61.65" width="24.85" height="11.5" fill="#000000" class="bx"/>
<rect x="415.48" y="61.65" width="24.85" height="11.5" fill="#000000" class="bx"/>
<rect x="449.43" y="61.65" width="24.85" height="11.5" fill="#000000" class="bx"/>
<rect x="483.38" y="61.65" width="24.85" height="11.5" fill="#000000" class="bx"/>
<rect x="517.33" y="61.65" width="24.85" height="11.5" fill="#000000" class="bx"/>
<rect x="560.93" y="61.65" width="24.85" height="11.5" fill="#000000" class="bx"/>
<text transform="translate(368.10,70.70) rotate(0.05) scale(1.05,1)" text-anchor="end" class="t rl">C15</text>
<line x1="373.80" y1="82.30" x2="548.80" y2="82.30" class="ln"/>
<rect x="381.53" y="76.55" width="24.85" height="11.5" fill="#ffffff" class="bx"/>
<rect x="415.48" y="76.55" width="24.85" height="11.5" fill="#ffffff" class="bx"/>
<rect x="449.43" y="76.55" width="24.85" height="11.5" fill="#c0c0c0" class="bx"/>
<rect x="483.38" y="76.55" width="24.85" height="11.5" fill="#c0c0c0" class="bx"/>
<rect x="517.33" y="76.55" width="24.85" height="11.5" fill="#ffffff" class="bx"/>
<rect x="560.93" y="76.55" width="24.85" height="11.5" fill="#ffffff" class="bx"/>
<text transform="translate(368.10,85.60) rotate(0.05) scale(1.05,1)" text-anchor="end" class="t rl">N15</text>
<text transform="translate(592.10,78.05) rotate(0.05)" class="t" font-size="12.6">F, 81y</text>
<line x1="373.80" y1="100.41" x2="548.80" y2="100.41" class="ln"/>
<rect x="381.53" y="94.66" width="24.85" height="11.5" fill="#000000" class="bx"/>
<rect x="415.48" y="94.66" width="24.85" height="11.5" fill="#000000" class="bx"/>
<rect x="449.43" y="94.66" width="24.85" height="11.5" fill="#000000" class="bx"/>
<rect x="483.38" y="94.66" width="24.85" height="11.5" fill="#000000" class="bx"/>
<rect x="517.33" y="94.66" width="24.85" height="11.5" fill="#000000" class="bx"/>
<rect x="560.93" y="94.66" width="24.85" height="11.5" fill="#000000" class="bx"/>
<text transform="translate(368.10,103.71) rotate(0.05) scale(1.05,1)" text-anchor="end" class="t rl">C16</text>
<line x1="373.80" y1="115.31" x2="548.80" y2="115.31" class="ln"/>
<rect x="381.53" y="109.56" width="24.85" height="11.5" fill="#ffffff" class="bx"/>
<rect x="415.48" y="109.56" width="24.85" height="11.5" fill="#ffffff" class="bx"/>
<rect x="449.43" y="109.56" width="24.85" height="11.5" fill="#c0c0c0" class="bx"/>
<rect x="483.38" y="109.56" width="24.85" height="11.5" fill="#c0c0c0" class="bx"/>
<rect x="517.33" y="109.56" width="24.85" height="11.5" fill="#ffffff" class="bx"/>
<rect x="560.93" y="109.56" width="24.85" height="11.5" fill="#ffffff" class="bx"/>
<text transform="translate(368.10,118.61) rotate(0.05) scale(1.05,1)" text-anchor="end" class="t rl">N16</text>
<text transform="translate(592.10,111.06) rotate(0.05)" class="t" font-size="12.6">M, 74y</text>
<line x1="373.80" y1="133.42" x2="548.80" y2="133.42" class="ln"/>
<rect x="381.53" y="127.67" width="24.85" height="11.5" fill="#000000" class="bx"/>
<rect x="415.48" y="127.67" width="24.85" height="11.5" fill="#000000" class="bx"/>
<rect x="449.43" y="127.67" width="24.85" height="11.5" fill="#000000" class="bx"/>
<rect x="483.38" y="127.67" width="24.85" height="11.5" fill="#000000" class="bx"/>
<rect x="517.33" y="127.67" width="24.85" height="11.5" fill="#000000" class="bx"/>
<rect x="560.93" y="127.67" width="24.85" height="11.5" fill="#000000" class="bx"/>
<text transform="translate(368.10,136.72) rotate(0.05) scale(1.05,1)" text-anchor="end" class="t rl">C17</text>
<line x1="373.80" y1="148.32" x2="548.80" y2="148.32" class="ln"/>
<rect x="381.53" y="142.57" width="24.85" height="11.5" fill="#ffffff" class="bx"/>
<rect x="415.48" y="142.57" width="24.85" height="11.5" fill="#ffffff" class="bx"/>
<rect x="449.43" y="142.57" width="24.85" height="11.5" fill="#c0c0c0" class="bx"/>
<rect x="483.38" y="142.57" width="24.85" height="11.5" fill="#ffffff" class="bx"/>
<rect x="517.33" y="142.57" width="24.85" height="11.5" fill="#ffffff" class="bx"/>
<rect x="560.93" y="142.57" width="24.85" height="11.5" fill="#ffffff" class="bx"/>
<text transform="translate(368.10,151.62) rotate(0.05) scale(1.05,1)" text-anchor="end" class="t rl">N17</text>
<text transform="translate(592.10,144.07) rotate(0.05)" class="t" font-size="12.6">M, 88y</text>
<line x1="373.80" y1="166.43" x2="548.80" y2="166.43" class="ln"/>
<rect x="381.53" y="160.68" width="24.85" height="11.5" fill="#000000" class="bx"/>
<rect x="415.48" y="160.68" width="24.85" height="11.5" fill="#000000" class="bx"/>
<rect x="449.43" y="160.68" width="24.85" height="11.5" fill="#000000" class="bx"/>
<rect x="483.38" y="160.68" width="24.85" height="11.5" fill="#000000" class="bx"/>
<rect x="517.33" y="160.68" width="24.85" height="11.5" fill="#000000" class="bx"/>
<rect x="560.93" y="160.68" width="24.85" height="11.5" fill="#000000" class="bx"/>
<text transform="translate(368.10,169.73) rotate(0.05) scale(1.05,1)" text-anchor="end" class="t rl">C18</text>
<line x1="373.80" y1="181.33" x2="548.80" y2="181.33" class="ln"/>
<rect x="381.53" y="175.58" width="24.85" height="11.5" fill="#ffffff" class="bx"/>
<rect x="415.48" y="175.58" width="24.85" height="11.5" fill="#ffffff" class="bx"/>
<rect x="449.43" y="175.58" width="24.85" height="11.5" fill="#ffffff" class="bx"/>
<rect x="483.38" y="175.58" width="24.85" height="11.5" fill="#ffffff" class="bx"/>
<rect x="517.33" y="175.58" width="24.85" height="11.5" fill="#ffffff" class="bx"/>
<rect x="560.93" y="175.58" width="24.85" height="11.5" fill="#ffffff" class="bx"/>
<text transform="translate(368.10,184.63) rotate(0.05) scale(1.05,1)" text-anchor="end" class="t rl">N18</text>
<text transform="translate(592.10,177.08) rotate(0.05)" class="t" font-size="12.6">F, 79y</text>
<line x1="373.80" y1="199.44" x2="548.80" y2="199.44" class="ln"/>
<rect x="381.53" y="193.69" width="24.85" height="11.5" fill="#000000" class="bx"/>
<rect x="415.48" y="193.69" width="24.85" height="11.5" fill="#000000" class="bx"/>
<rect x="449.43" y="193.69" width="24.85" height="11.5" fill="#000000" class="bx"/>
<rect x="483.38" y="193.69" width="24.85" height="11.5" fill="#000000" class="bx"/>
<rect x="517.33" y="193.69" width="24.85" height="11.5" fill="#000000" class="bx"/>
<rect x="560.93" y="193.69" width="24.85" height="11.5" fill="#000000" class="bx"/>
<text transform="translate(368.10,202.74) rotate(0.05) scale(1.05,1)" text-anchor="end" class="t rl">C19</text>
<line x1="373.80" y1="214.34" x2="548.80" y2="214.34" class="ln"/>
<rect x="381.53" y="208.59" width="24.85" height="11.5" fill="#ffffff" class="bx"/>
<rect x="415.48" y="208.59" width="24.85" height="11.5" fill="#ffffff" class="bx"/>
<rect x="449.43" y="208.59" width="24.85" height="11.5" fill="#ffffff" class="bx"/>
<rect x="483.38" y="208.59" width="24.85" height="11.5" fill="#ffffff" class="bx"/>
<rect x="517.33" y="208.59" width="24.85" height="11.5" fill="#ffffff" class="bx"/>
<rect x="560.93" y="208.59" width="24.85" height="11.5" fill="#ffffff" class="bx"/>
<text transform="translate(368.10,217.64) rotate(0.05) scale(1.05,1)" text-anchor="end" class="t rl">N19</text>
<text transform="translate(592.10,210.09) rotate(0.05)" class="t" font-size="12.6">F, 92y</text>
<line x1="373.80" y1="232.45" x2="548.80" y2="232.45" class="ln"/>
<rect x="381.53" y="226.70" width="24.85" height="11.5" fill="#000000" class="bx"/>
<rect x="415.48" y="226.70" width="24.85" height="11.5" fill="#000000" class="bx"/>
<rect x="449.43" y="226.70" width="24.85" height="11.5" fill="#000000" class="bx"/>
<rect x="483.38" y="226.70" width="24.85" height="11.5" fill="#000000" class="bx"/>
<rect x="517.33" y="226.70" width="24.85" height="11.5" fill="#000000" class="bx"/>
<rect x="560.93" y="226.70" width="24.85" height="11.5" fill="#000000" class="bx"/>
<text transform="translate(368.10,235.75) rotate(0.05) scale(1.05,1)" text-anchor="end" class="t rl">C20</text>
<line x1="373.80" y1="247.35" x2="548.80" y2="247.35" class="ln"/>
<rect x="381.53" y="241.60" width="24.85" height="11.5" fill="#ffffff" class="bx"/>
<rect x="415.48" y="241.60" width="24.85" height="11.5" fill="#ffffff" class="bx"/>
<rect x="449.43" y="241.60" width="24.85" height="11.5" fill="#ffffff" class="bx"/>
<rect x="483.38" y="241.60" width="24.85" height="11.5" fill="#ffffff" class="bx"/>
<rect x="517.33" y="241.60" width="24.85" height="11.5" fill="#ffffff" class="bx"/>
<rect x="560.93" y="241.60" width="24.85" height="11.5" fill="#ffffff" class="bx"/>
<text transform="translate(368.10,250.65) rotate(0.05) scale(1.05,1)" text-anchor="end" class="t rl">N20</text>
<text transform="translate(592.10,243.10) rotate(0.05)" class="t" font-size="12.6">M, 63y</text>
<line x1="373.80" y1="265.46" x2="548.80" y2="265.46" class="ln"/>
<rect x="381.53" y="259.71" width="24.85" height="11.5" fill="#000000" class="bx"/>
<rect x="415.48" y="259.71" width="24.85" height="11.5" fill="#000000" class="bx"/>
<rect x="449.43" y="259.71" width="24.85" height="11.5" fill="#000000" class="bx"/>
<rect x="483.38" y="259.71" width="24.85" height="11.5" fill="#000000" class="bx"/>
<rect x="517.33" y="259.71" width="24.85" height="11.5" fill="#000000" class="bx"/>
<rect x="560.93" y="259.71" width="24.85" height="11.5" fill="#000000" class="bx"/>
<text transform="translate(368.10,268.76) rotate(0.05) scale(1.05,1)" text-anchor="end" class="t rl">C21</text>
<line x1="373.80" y1="280.36" x2="548.80" y2="280.36" class="ln"/>
<rect x="381.53" y="274.61" width="24.85" height="11.5" fill="#ffffff" class="bx"/>
<rect x="415.48" y="274.61" width="24.85" height="11.5" fill="#ffffff" class="bx"/>
<rect x="449.43" y="274.61" width="24.85" height="11.5" fill="#ffffff" class="bx"/>
<rect x="483.38" y="274.61" width="24.85" height="11.5" fill="#ffffff" class="bx"/>
<rect x="517.33" y="274.61" width="24.85" height="11.5" fill="#ffffff" class="bx"/>
<rect x="560.93" y="274.61" width="24.85" height="11.5" fill="#ffffff" class="bx"/>
<text transform="translate(368.10,283.66) rotate(0.05) scale(1.05,1)" text-anchor="end" class="t rl">N21</text>
<text transform="translate(592.10,276.11) rotate(0.05)" class="t" font-size="12.6">M, 64y</text>
<line x1="373.80" y1="298.47" x2="548.80" y2="298.47" class="ln"/>
<rect x="381.53" y="292.72" width="24.85" height="11.5" fill="#000000" class="bx"/>
<rect x="415.48" y="292.72" width="24.85" height="11.5" fill="#000000" class="bx"/>
<rect x="449.43" y="292.72" width="24.85" height="11.5" fill="#000000" class="bx"/>
<rect x="483.38" y="292.72" width="24.85" height="11.5" fill="#ffffff" class="bx"/>
<rect x="517.33" y="292.72" width="24.85" height="11.5" fill="#000000" class="bx"/>
<rect x="560.93" y="292.72" width="24.85" height="11.5" fill="#000000" class="bx"/>
<text transform="translate(368.10,301.77) rotate(0.05) scale(1.05,1)" text-anchor="end" class="t rl">C22</text>
<line x1="373.80" y1="313.37" x2="548.80" y2="313.37" class="ln"/>
<rect x="381.53" y="307.62" width="24.85" height="11.5" fill="#ffffff" class="bx"/>
<rect x="415.48" y="307.62" width="24.85" height="11.5" fill="#ffffff" class="bx"/>
<rect x="449.43" y="307.62" width="24.85" height="11.5" fill="#ffffff" class="bx"/>
<rect x="483.38" y="307.62" width="24.85" height="11.5" fill="#ffffff" class="bx"/>
<rect x="517.33" y="307.62" width="24.85" height="11.5" fill="#ffffff" class="bx"/>
<rect x="560.93" y="307.62" width="24.85" height="11.5" fill="#ffffff" class="bx"/>
<text transform="translate(368.10,316.67) rotate(0.05) scale(1.05,1)" text-anchor="end" class="t rl">N22</text>
<text transform="translate(592.10,309.12) rotate(0.05)" class="t" font-size="12.6">F, 85y</text>
<line x1="373.80" y1="331.48" x2="548.80" y2="331.48" class="ln"/>
<rect x="381.53" y="325.73" width="24.85" height="11.5" fill="#000000" class="bx"/>
<rect x="415.48" y="325.73" width="24.85" height="11.5" fill="#000000" class="bx"/>
<rect x="449.43" y="325.73" width="24.85" height="11.5" fill="#000000" class="bx"/>
<rect x="483.38" y="325.73" width="24.85" height="11.5" fill="#ffffff" class="bx"/>
<rect x="517.33" y="325.73" width="24.85" height="11.5" fill="#ffffff" class="bx"/>
<rect x="560.93" y="325.73" width="24.85" height="11.5" fill="#000000" class="bx"/>
<text transform="translate(368.10,334.78) rotate(0.05) scale(1.05,1)" text-anchor="end" class="t rl">C23</text>
<line x1="373.80" y1="346.38" x2="548.80" y2="346.38" class="ln"/>
<rect x="381.53" y="340.63" width="24.85" height="11.5" fill="#ffffff" class="bx"/>
<rect x="415.48" y="340.63" width="24.85" height="11.5" fill="#ffffff" class="bx"/>
<rect x="449.43" y="340.63" width="24.85" height="11.5" fill="#ffffff" class="bx"/>
<rect x="483.38" y="340.63" width="24.85" height="11.5" fill="#ffffff" class="bx"/>
<rect x="517.33" y="340.63" width="24.85" height="11.5" fill="#ffffff" class="bx"/>
<rect x="560.93" y="340.63" width="24.85" height="11.5" fill="#ffffff" class="bx"/>
<text transform="translate(368.10,349.68) rotate(0.05) scale(1.05,1)" text-anchor="end" class="t rl">N23</text>
<text transform="translate(592.10,342.13) rotate(0.05)" class="t" font-size="12.6">M, 68y</text>
<line x1="373.80" y1="364.49" x2="548.80" y2="364.49" class="ln"/>
<rect x="381.53" y="358.74" width="24.85" height="11.5" fill="#000000" class="bx"/>
<rect x="415.48" y="358.74" width="24.85" height="11.5" fill="#000000" class="bx"/>
<rect x="449.43" y="358.74" width="24.85" height="11.5" fill="#ffffff" class="bx"/>
<rect x="483.38" y="358.74" width="24.85" height="11.5" fill="#000000" class="bx"/>
<rect x="517.33" y="358.74" width="24.85" height="11.5" fill="#000000" class="bx"/>
<rect x="560.93" y="358.74" width="24.85" height="11.5" fill="#000000" class="bx"/>
<text transform="translate(368.10,367.79) rotate(0.05) scale(1.05,1)" text-anchor="end" class="t rl">C24</text>
<line x1="373.80" y1="379.39" x2="548.80" y2="379.39" class="ln"/>
<rect x="381.53" y="373.64" width="24.85" height="11.5" fill="#ffffff" class="bx"/>
<rect x="415.48" y="373.64" width="24.85" height="11.5" fill="#ffffff" class="bx"/>
<rect x="449.43" y="373.64" width="24.85" height="11.5" fill="#ffffff" class="bx"/>
<rect x="483.38" y="373.64" width="24.85" height="11.5" fill="#ffffff" class="bx"/>
<rect x="517.33" y="373.64" width="24.85" height="11.5" fill="#ffffff" class="bx"/>
<rect x="560.93" y="373.64" width="24.85" height="11.5" fill="#ffffff" class="bx"/>
<text transform="translate(368.10,382.69) rotate(0.05) scale(1.05,1)" text-anchor="end" class="t rl">N24</text>
<text transform="translate(592.10,375.14) rotate(0.05)" class="t" font-size="12.6">M, 75y</text>
<line x1="373.80" y1="397.50" x2="548.80" y2="397.50" class="ln"/>
<rect x="381.53" y="391.75" width="24.85" height="11.5" fill="#000000" class="bx"/>
<rect x="415.48" y="391.75" width="24.85" height="11.5" fill="#000000" class="bx"/>
<rect x="449.43" y="391.75" width="24.85" height="11.5" fill="#000000" class="bx"/>
<rect x="483.38" y="391.75" width="24.85" height="11.5" fill="#808080" class="bx"/>
<rect x="517.33" y="391.75" width="24.85" height="11.5" fill="#ffffff" class="bx"/>
<rect x="560.93" y="391.75" width="24.85" height="11.5" fill="#000000" class="bx"/>
<text transform="translate(368.10,400.80) rotate(0.05) scale(1.05,1)" text-anchor="end" class="t rl">C25</text>
<line x1="373.80" y1="412.40" x2="548.80" y2="412.40" class="ln"/>
<rect x="381.53" y="406.65" width="24.85" height="11.5" fill="#ffffff" class="bx"/>
<rect x="415.48" y="406.65" width="24.85" height="11.5" fill="#ffffff" class="bx"/>
<rect x="449.43" y="406.65" width="24.85" height="11.5" fill="#ffffff" class="bx"/>
<rect x="483.38" y="406.65" width="24.85" height="11.5" fill="#ffffff" class="bx"/>
<rect x="517.33" y="406.65" width="24.85" height="11.5" fill="#ffffff" class="bx"/>
<rect x="560.93" y="406.65" width="24.85" height="11.5" fill="#ffffff" class="bx"/>
<text transform="translate(368.10,415.70) rotate(0.05) scale(1.05,1)" text-anchor="end" class="t rl">N25</text>
<text transform="translate(592.10,408.15) rotate(0.05)" class="t" font-size="12.6">F, 82y</text>
<line x1="373.80" y1="430.51" x2="548.80" y2="430.51" class="ln"/>
<rect x="381.53" y="424.76" width="24.85" height="11.5" fill="#000000" class="bx"/>
<rect x="415.48" y="424.76" width="24.85" height="11.5" fill="#000000" class="bx"/>
<rect x="449.43" y="424.76" width="24.85" height="11.5" fill="#000000" class="bx"/>
<rect x="483.38" y="424.76" width="24.85" height="11.5" fill="#ffffff" class="bx"/>
<rect x="517.33" y="424.76" width="24.85" height="11.5" fill="#ffffff" class="bx"/>
<rect x="560.93" y="424.76" width="24.85" height="11.5" fill="#000000" class="bx"/>
<text transform="translate(368.10,433.81) rotate(0.05) scale(1.05,1)" text-anchor="end" class="t rl">C26</text>
<line x1="373.80" y1="445.41" x2="548.80" y2="445.41" class="ln"/>
<rect x="381.53" y="439.66" width="24.85" height="11.5" fill="#ffffff" class="bx"/>
<rect x="415.48" y="439.66" width="24.85" height="11.5" fill="#ffffff" class="bx"/>
<rect x="449.43" y="439.66" width="24.85" height="11.5" fill="#ffffff" class="bx"/>
<rect x="483.38" y="439.66" width="24.85" height="11.5" fill="#ffffff" class="bx"/>
<rect x="517.33" y="439.66" width="24.85" height="11.5" fill="#ffffff" class="bx"/>
<rect x="560.93" y="439.66" width="24.85" height="11.5" fill="#ffffff" class="bx"/>
<text transform="translate(368.10,448.71) rotate(0.05) scale(1.05,1)" text-anchor="end" class="t rl">N26</text>
<text transform="translate(592.10,441.16) rotate(0.05)" class="t" font-size="12.6">F, 72y</text>
<line x1="373.80" y1="463.52" x2="548.80" y2="463.52" class="ln"/>
<rect x="381.53" y="457.77" width="24.85" height="11.5" fill="#000000" class="bx"/>
<rect x="415.48" y="457.77" width="24.85" height="11.5" fill="#000000" class="bx"/>
<rect x="449.43" y="457.77" width="24.85" height="11.5" fill="#000000" class="bx"/>
<rect x="483.38" y="457.77" width="24.85" height="11.5" fill="#ffffff" class="bx"/>
<rect x="517.33" y="457.77" width="24.85" height="11.5" fill="#ffffff" class="bx"/>
<rect x="560.93" y="457.77" width="24.85" height="11.5" fill="#000000" class="bx"/>
<text transform="translate(368.10,466.82) rotate(0.05) scale(1.05,1)" text-anchor="end" class="t rl">C27</text>
<line x1="373.80" y1="478.42" x2="548.80" y2="478.42" class="ln"/>
<rect x="381.53" y="472.67" width="24.85" height="11.5" fill="#ffffff" class="bx"/>
<rect x="415.48" y="472.67" width="24.85" height="11.5" fill="#ffffff" class="bx"/>
<rect x="449.43" y="472.67" width="24.85" height="11.5" fill="#ffffff" class="bx"/>
<rect x="483.38" y="472.67" width="24.85" height="11.5" fill="#ffffff" class="bx"/>
<rect x="517.33" y="472.67" width="24.85" height="11.5" fill="#ffffff" class="bx"/>
<rect x="560.93" y="472.67" width="24.85" height="11.5" fill="#ffffff" class="bx"/>
<text transform="translate(368.10,481.72) rotate(0.05) scale(1.05,1)" text-anchor="end" class="t rl">N27</text>
<text transform="translate(592.10,474.17) rotate(0.05)" class="t" font-size="12.6">M, 71y</text>
<line x1="373.80" y1="511.60" x2="548.80" y2="511.60" class="ln"/>
<rect x="381.53" y="505.85" width="24.85" height="11.5" fill="#ffffff" class="bx"/>
<rect x="415.48" y="505.85" width="24.85" height="11.5" fill="#ffffff" class="bx"/>
<rect x="449.43" y="505.85" width="24.85" height="11.5" fill="#ffffff" class="bx"/>
<rect x="483.38" y="505.85" width="24.85" height="11.5" fill="#ffffff" class="bx"/>
<rect x="517.33" y="505.85" width="24.85" height="11.5" fill="#808080" class="bx"/>
<rect x="560.93" y="505.85" width="24.85" height="11.5" fill="#ffffff" class="bx"/>
<text transform="translate(368.10,514.90) rotate(0.05) scale(1.05,1)" text-anchor="end" class="t rl">C28</text>
<line x1="373.80" y1="526.50" x2="548.80" y2="526.50" class="ln"/>
<rect x="381.53" y="520.75" width="24.85" height="11.5" fill="#ffffff" class="bx"/>
<rect x="415.48" y="520.75" width="24.85" height="11.5" fill="#ffffff" class="bx"/>
<rect x="449.43" y="520.75" width="24.85" height="11.5" fill="#ffffff" class="bx"/>
<rect x="483.38" y="520.75" width="24.85" height="11.5" fill="#ffffff" class="bx"/>
<rect x="517.33" y="520.75" width="24.85" height="11.5" fill="#ffffff" class="bx"/>
<rect x="560.93" y="520.75" width="24.85" height="11.5" fill="#ffffff" class="bx"/>
<text transform="translate(368.10,529.80) rotate(0.05) scale(1.05,1)" text-anchor="end" class="t rl">N28</text>
<text transform="translate(592.10,522.25) rotate(0.05)" class="t" font-size="12.6">F, 82y</text>
<line x1="373.80" y1="544.77" x2="548.80" y2="544.77" class="ln"/>
<rect x="381.53" y="539.02" width="24.85" height="11.5" fill="#ffffff" class="bx"/>
<rect x="415.48" y="539.02" width="24.85" height="11.5" fill="#ffffff" class="bx"/>
<rect x="449.43" y="539.02" width="24.85" height="11.5" fill="#ffffff" class="bx"/>
<rect x="483.38" y="539.02" width="24.85" height="11.5" fill="#ffffff" class="bx"/>
<rect x="517.33" y="539.02" width="24.85" height="11.5" fill="#ffffff" class="bx"/>
<rect x="560.93" y="539.02" width="24.85" height="11.5" fill="#ffffff" class="bx"/>
<text transform="translate(368.10,548.07) rotate(0.05) scale(1.05,1)" text-anchor="end" class="t rl">C29</text>
<line x1="373.80" y1="559.67" x2="548.80" y2="559.67" class="ln"/>
<rect x="381.53" y="553.92" width="24.85" height="11.5" fill="#ffffff" class="bx"/>
<rect x="415.48" y="553.92" width="24.85" height="11.5" fill="#ffffff" class="bx"/>
<rect x="449.43" y="553.92" width="24.85" height="11.5" fill="#ffffff" class="bx"/>
<rect x="483.38" y="553.92" width="24.85" height="11.5" fill="#ffffff" class="bx"/>
<rect x="517.33" y="553.92" width="24.85" height="11.5" fill="#ffffff" class="bx"/>
<rect x="560.93" y="553.92" width="24.85" height="11.5" fill="#ffffff" class="bx"/>
<text transform="translate(368.10,562.97) rotate(0.05) scale(1.05,1)" text-anchor="end" class="t rl">N29</text>
<text transform="translate(592.10,555.42) rotate(0.05)" class="t" font-size="12.6">M, 74y</text>
<line x1="373.80" y1="577.95" x2="548.80" y2="577.95" class="ln"/>
<rect x="381.53" y="572.20" width="24.85" height="11.5" fill="#000000" class="bx"/>
<rect x="415.48" y="572.20" width="24.85" height="11.5" fill="#ffffff" class="bx"/>
<rect x="449.43" y="572.20" width="24.85" height="11.5" fill="#ffffff" class="bx"/>
<rect x="483.38" y="572.20" width="24.85" height="11.5" fill="#000000" class="bx"/>
<rect x="517.33" y="572.20" width="24.85" height="11.5" fill="#ffffff" class="bx"/>
<rect x="560.93" y="572.20" width="24.85" height="11.5" fill="#ffffff" class="bx"/>
<text transform="translate(368.10,581.25) rotate(0.05) scale(1.05,1)" text-anchor="end" class="t rl">C30</text>
<line x1="373.80" y1="592.85" x2="548.80" y2="592.85" class="ln"/>
<rect x="381.53" y="587.10" width="24.85" height="11.5" fill="#ffffff" class="bx"/>
<rect x="415.48" y="587.10" width="24.85" height="11.5" fill="#ffffff" class="bx"/>
<rect x="449.43" y="587.10" width="24.85" height="11.5" fill="#ffffff" class="bx"/>
<rect x="483.38" y="587.10" width="24.85" height="11.5" fill="#ffffff" class="bx"/>
<rect x="517.33" y="587.10" width="24.85" height="11.5" fill="#ffffff" class="bx"/>
<rect x="560.93" y="587.10" width="24.85" height="11.5" fill="#ffffff" class="bx"/>
<text transform="translate(368.10,596.15) rotate(0.05) scale(1.05,1)" text-anchor="end" class="t rl">N30</text>
<text transform="translate(592.10,588.60) rotate(0.05)" class="t" font-size="12.6">M, 90y</text>
<line x1="373.80" y1="611.12" x2="548.80" y2="611.12" class="ln"/>
<rect x="381.53" y="605.38" width="24.85" height="11.5" fill="#c0c0c0" class="bx"/>
<rect x="415.48" y="605.38" width="24.85" height="11.5" fill="#ffffff" class="bx"/>
<rect x="449.43" y="605.38" width="24.85" height="11.5" fill="#ffffff" class="bx"/>
<rect x="483.38" y="605.38" width="24.85" height="11.5" fill="#808080" class="bx"/>
<rect x="517.33" y="605.38" width="24.85" height="11.5" fill="#ffffff" class="bx"/>
<rect x="560.93" y="605.38" width="24.85" height="11.5" fill="#ffffff" class="bx"/>
<text transform="translate(368.10,614.42) rotate(0.05) scale(1.05,1)" text-anchor="end" class="t rl">C31</text>
<line x1="373.80" y1="626.02" x2="548.80" y2="626.02" class="ln"/>
<rect x="381.53" y="620.27" width="24.85" height="11.5" fill="#ffffff" class="bx"/>
<rect x="415.48" y="620.27" width="24.85" height="11.5" fill="#ffffff" class="bx"/>
<rect x="449.43" y="620.27" width="24.85" height="11.5" fill="#ffffff" class="bx"/>
<rect x="483.38" y="620.27" width="24.85" height="11.5" fill="#ffffff" class="bx"/>
<rect x="517.33" y="620.27" width="24.85" height="11.5" fill="#ffffff" class="bx"/>
<rect x="560.93" y="620.27" width="24.85" height="11.5" fill="#ffffff" class="bx"/>
<text transform="translate(368.10,629.32) rotate(0.05) scale(1.05,1)" text-anchor="end" class="t rl">N31</text>
<text transform="translate(592.10,621.78) rotate(0.05)" class="t" font-size="12.6">F, 83y</text>
<line x1="373.80" y1="644.30" x2="548.80" y2="644.30" class="ln"/>
<rect x="381.53" y="638.55" width="24.85" height="11.5" fill="#ffffff" class="bx"/>
<rect x="415.48" y="638.55" width="24.85" height="11.5" fill="#ffffff" class="bx"/>
<rect x="449.43" y="638.55" width="24.85" height="11.5" fill="#c0c0c0" class="bx"/>
<rect x="483.38" y="638.55" width="24.85" height="11.5" fill="#c0c0c0" class="bx"/>
<rect x="517.33" y="638.55" width="24.85" height="11.5" fill="#ffffff" class="bx"/>
<rect x="560.93" y="638.55" width="24.85" height="11.5" fill="#ffffff" class="bx"/>
<text transform="translate(368.10,647.60) rotate(0.05) scale(1.05,1)" text-anchor="end" class="t rl">C32</text>
<line x1="373.80" y1="659.20" x2="548.80" y2="659.20" class="ln"/>
<rect x="381.53" y="653.45" width="24.85" height="11.5" fill="#ffffff" class="bx"/>
<rect x="415.48" y="653.45" width="24.85" height="11.5" fill="#ffffff" class="bx"/>
<rect x="449.43" y="653.45" width="24.85" height="11.5" fill="#ffffff" class="bx"/>
<rect x="483.38" y="653.45" width="24.85" height="11.5" fill="#ffffff" class="bx"/>
<rect x="517.33" y="653.45" width="24.85" height="11.5" fill="#ffffff" class="bx"/>
<rect x="560.93" y="653.45" width="24.85" height="11.5" fill="#ffffff" class="bx"/>
<text transform="translate(368.10,662.50) rotate(0.05) scale(1.05,1)" text-anchor="end" class="t rl">N32</text>
<text transform="translate(592.10,654.95) rotate(0.05)" class="t" font-size="12.6">F, 87y</text>
<line x1="373.80" y1="677.48" x2="548.80" y2="677.48" class="ln"/>
<rect x="381.53" y="671.73" width="24.85" height="11.5" fill="#ffffff" class="bx"/>
<rect x="415.48" y="671.73" width="24.85" height="11.5" fill="#ffffff" class="bx"/>
<rect x="449.43" y="671.73" width="24.85" height="11.5" fill="#ffffff" class="bx"/>
<rect x="483.38" y="671.73" width="24.85" height="11.5" fill="#808080" class="bx"/>
<rect x="517.33" y="671.73" width="24.85" height="11.5" fill="#000000" class="bx"/>
<rect x="560.93" y="671.73" width="24.85" height="11.5" fill="#ffffff" class="bx"/>
<text transform="translate(368.10,680.77) rotate(0.05) scale(1.05,1)" text-anchor="end" class="t rl">C33</text>
<line x1="373.80" y1="692.38" x2="548.80" y2="692.38" class="ln"/>
<rect x="381.53" y="686.62" width="24.85" height="11.5" fill="#ffffff" class="bx"/>
<rect x="415.48" y="686.62" width="24.85" height="11.5" fill="#ffffff" class="bx"/>
<rect x="449.43" y="686.62" width="24.85" height="11.5" fill="#ffffff" class="bx"/>
<rect x="483.38" y="686.62" width="24.85" height="11.5" fill="#c0c0c0" class="bx"/>
<rect x="517.33" y="686.62" width="24.85" height="11.5" fill="#ffffff" class="bx"/>
<rect x="560.93" y="686.62" width="24.85" height="11.5" fill="#ffffff" class="bx"/>
<text transform="translate(368.10,695.67) rotate(0.05) scale(1.05,1)" text-anchor="end" class="t rl">N33</text>
<text transform="translate(592.10,688.12) rotate(0.05)" class="t" font-size="12.6">M, 58y</text>
<line x1="373.80" y1="710.65" x2="548.80" y2="710.65" class="ln"/>
<rect x="381.53" y="704.90" width="24.85" height="11.5" fill="#000000" class="bx"/>
<rect x="415.48" y="704.90" width="24.85" height="11.5" fill="#ffffff" class="bx"/>
<rect x="449.43" y="704.90" width="24.85" height="11.5" fill="#ffffff" class="bx"/>
<rect x="483.38" y="704.90" width="24.85" height="11.5" fill="#ffffff" class="bx"/>
<rect x="517.33" y="704.90" width="24.85" height="11.5" fill="#ffffff" class="bx"/>
<rect x="560.93" y="704.90" width="24.85" height="11.5" fill="#ffffff" class="bx"/>
<text transform="translate(368.10,713.95) rotate(0.05) scale(1.05,1)" text-anchor="end" class="t rl">C34</text>
<line x1="373.80" y1="725.55" x2="548.80" y2="725.55" class="ln"/>
<rect x="381.53" y="719.80" width="24.85" height="11.5" fill="#ffffff" class="bx"/>
<rect x="415.48" y="719.80" width="24.85" height="11.5" fill="#ffffff" class="bx"/>
<rect x="449.43" y="719.80" width="24.85" height="11.5" fill="#ffffff" class="bx"/>
<rect x="483.38" y="719.80" width="24.85" height="11.5" fill="#ffffff" class="bx"/>
<rect x="517.33" y="719.80" width="24.85" height="11.5" fill="#ffffff" class="bx"/>
<rect x="560.93" y="719.80" width="24.85" height="11.5" fill="#ffffff" class="bx"/>
<text transform="translate(368.10,728.85) rotate(0.05) scale(1.05,1)" text-anchor="end" class="t rl">N34</text>
<text transform="translate(592.10,721.30) rotate(0.05)" class="t" font-size="12.6">M, 59y</text>
<line x1="373.80" y1="743.83" x2="548.80" y2="743.83" class="ln"/>
<rect x="381.53" y="738.08" width="24.85" height="11.5" fill="#000000" class="bx"/>
<rect x="415.48" y="738.08" width="24.85" height="11.5" fill="#ffffff" class="bx"/>
<rect x="449.43" y="738.08" width="24.85" height="11.5" fill="#ffffff" class="bx"/>
<rect x="483.38" y="738.08" width="24.85" height="11.5" fill="#ffffff" class="bx"/>
<rect x="517.33" y="738.08" width="24.85" height="11.5" fill="#ffffff" class="bx"/>
<rect x="560.93" y="738.08" width="24.85" height="11.5" fill="#ffffff" class="bx"/>
<text transform="translate(368.10,747.12) rotate(0.05) scale(1.05,1)" text-anchor="end" class="t rl">C35</text>
<line x1="373.80" y1="758.73" x2="548.80" y2="758.73" class="ln"/>
<rect x="381.53" y="752.98" width="24.85" height="11.5" fill="#ffffff" class="bx"/>
<rect x="415.48" y="752.98" width="24.85" height="11.5" fill="#ffffff" class="bx"/>
<rect x="449.43" y="752.98" width="24.85" height="11.5" fill="#ffffff" class="bx"/>
<rect x="483.38" y="752.98" width="24.85" height="11.5" fill="#ffffff" class="bx"/>
<rect x="517.33" y="752.98" width="24.85" height="11.5" fill="#ffffff" class="bx"/>
<rect x="560.93" y="752.98" width="24.85" height="11.5" fill="#ffffff" class="bx"/>
<text transform="translate(368.10,762.02) rotate(0.05) scale(1.05,1)" text-anchor="end" class="t rl">N35</text>
<text transform="translate(592.10,754.48) rotate(0.05)" class="t" font-size="12.6">F, 84y</text>
<line x1="373.80" y1="777.00" x2="548.80" y2="777.00" class="ln"/>
<rect x="381.53" y="771.25" width="24.85" height="11.5" fill="#ffffff" class="bx"/>
<rect x="415.48" y="771.25" width="24.85" height="11.5" fill="#ffffff" class="bx"/>
<rect x="449.43" y="771.25" width="24.85" height="11.5" fill="#ffffff" class="bx"/>
<rect x="483.38" y="771.25" width="24.85" height="11.5" fill="#ffffff" class="bx"/>
<rect x="517.33" y="771.25" width="24.85" height="11.5" fill="#808080" class="bx"/>
<rect x="560.93" y="771.25" width="24.85" height="11.5" fill="#ffffff" class="bx"/>
<text transform="translate(368.10,780.30) rotate(0.05) scale(1.05,1)" text-anchor="end" class="t rl">C36</text>
<line x1="373.80" y1="791.90" x2="548.80" y2="791.90" class="ln"/>
<rect x="381.53" y="786.15" width="24.85" height="11.5" fill="#ffffff" class="bx"/>
<rect x="415.48" y="786.15" width="24.85" height="11.5" fill="#ffffff" class="bx"/>
<rect x="449.43" y="786.15" width="24.85" height="11.5" fill="#ffffff" class="bx"/>
<rect x="483.38" y="786.15" width="24.85" height="11.5" fill="#ffffff" class="bx"/>
<rect x="517.33" y="786.15" width="24.85" height="11.5" fill="#ffffff" class="bx"/>
<rect x="560.93" y="786.15" width="24.85" height="11.5" fill="#ffffff" class="bx"/>
<text transform="translate(368.10,795.20) rotate(0.05) scale(1.05,1)" text-anchor="end" class="t rl">N36</text>
<text transform="translate(592.10,787.65) rotate(0.05)" class="t" font-size="12.6">M, 65y</text>
<line x1="373.80" y1="810.17" x2="548.80" y2="810.17" class="ln"/>
<rect x="381.53" y="804.42" width="24.85" height="11.5" fill="#ffffff" class="bx"/>
<rect x="415.48" y="804.42" width="24.85" height="11.5" fill="#ffffff" class="bx"/>
<rect x="449.43" y="804.42" width="24.85" height="11.5" fill="#ffffff" class="bx"/>
<rect x="483.38" y="804.42" width="24.85" height="11.5" fill="#ffffff" class="bx"/>
<rect x="517.33" y="804.42" width="24.85" height="11.5" fill="#ffffff" class="bx"/>
<rect x="560.93" y="804.42" width="24.85" height="11.5" fill="#ffffff" class="bx"/>
<text transform="translate(368.10,813.47) rotate(0.05) scale(1.05,1)" text-anchor="end" class="t rl">C37</text>
<line x1="373.80" y1="825.07" x2="548.80" y2="825.07" class="ln"/>
<rect x="381.53" y="819.32" width="24.85" height="11.5" fill="#ffffff" class="bx"/>
<rect x="415.48" y="819.32" width="24.85" height="11.5" fill="#ffffff" class="bx"/>
<rect x="449.43" y="819.32" width="24.85" height="11.5" fill="#ffffff" class="bx"/>
<rect x="483.38" y="819.32" width="24.85" height="11.5" fill="#ffffff" class="bx"/>
<rect x="517.33" y="819.32" width="24.85" height="11.5" fill="#ffffff" class="bx"/>
<rect x="560.93" y="819.32" width="24.85" height="11.5" fill="#ffffff" class="bx"/>
<text transform="translate(368.10,828.37) rotate(0.05) scale(1.05,1)" text-anchor="end" class="t rl">N37</text>
<text transform="translate(592.10,820.83) rotate(0.05)" class="t" font-size="12.6">M, 71y</text>
<line x1="373.80" y1="843.35" x2="548.80" y2="843.35" class="ln"/>
<rect x="381.53" y="837.60" width="24.85" height="11.5" fill="#ffffff" class="bx"/>
<rect x="415.48" y="837.60" width="24.85" height="11.5" fill="#ffffff" class="bx"/>
<rect x="449.43" y="837.60" width="24.85" height="11.5" fill="#ffffff" class="bx"/>
<rect x="483.38" y="837.60" width="24.85" height="11.5" fill="#ffffff" class="bx"/>
<rect x="517.33" y="837.60" width="24.85" height="11.5" fill="#ffffff" class="bx"/>
<rect x="560.93" y="837.60" width="24.85" height="11.5" fill="#ffffff" class="bx"/>
<text transform="translate(368.10,846.65) rotate(0.05) scale(1.05,1)" text-anchor="end" class="t rl">C38</text>
<line x1="373.80" y1="858.25" x2="548.80" y2="858.25" class="ln"/>
<rect x="381.53" y="852.50" width="24.85" height="11.5" fill="#ffffff" class="bx"/>
<rect x="415.48" y="852.50" width="24.85" height="11.5" fill="#ffffff" class="bx"/>
<rect x="449.43" y="852.50" width="24.85" height="11.5" fill="#ffffff" class="bx"/>
<rect x="483.38" y="852.50" width="24.85" height="11.5" fill="#ffffff" class="bx"/>
<rect x="517.33" y="852.50" width="24.85" height="11.5" fill="#ffffff" class="bx"/>
<rect x="560.93" y="852.50" width="24.85" height="11.5" fill="#ffffff" class="bx"/>
<text transform="translate(368.10,861.55) rotate(0.05) scale(1.05,1)" text-anchor="end" class="t rl">N38</text>
<text transform="translate(592.10,854.00) rotate(0.05)" class="t" font-size="12.6">F, 81y</text>
<line x1="373.80" y1="876.52" x2="548.80" y2="876.52" class="ln"/>
<rect x="381.53" y="870.77" width="24.85" height="11.5" fill="#ffffff" class="bx"/>
<rect x="415.48" y="870.77" width="24.85" height="11.5" fill="#ffffff" class="bx"/>
<rect x="449.43" y="870.77" width="24.85" height="11.5" fill="#ffffff" class="bx"/>
<rect x="483.38" y="870.77" width="24.85" height="11.5" fill="#ffffff" class="bx"/>
<rect x="517.33" y="870.77" width="24.85" height="11.5" fill="#ffffff" class="bx"/>
<rect x="560.93" y="870.77" width="24.85" height="11.5" fill="#ffffff" class="bx"/>
<text transform="translate(368.10,879.82) rotate(0.05) scale(1.05,1)" text-anchor="end" class="t rl">C39</text>
<line x1="373.80" y1="891.42" x2="548.80" y2="891.42" class="ln"/>
<rect x="381.53" y="885.67" width="24.85" height="11.5" fill="#ffffff" class="bx"/>
<rect x="415.48" y="885.67" width="24.85" height="11.5" fill="#ffffff" class="bx"/>
<rect x="449.43" y="885.67" width="24.85" height="11.5" fill="#ffffff" class="bx"/>
<rect x="483.38" y="885.67" width="24.85" height="11.5" fill="#ffffff" class="bx"/>
<rect x="517.33" y="885.67" width="24.85" height="11.5" fill="#ffffff" class="bx"/>
<rect x="560.93" y="885.67" width="24.85" height="11.5" fill="#ffffff" class="bx"/>
<text transform="translate(368.10,894.72) rotate(0.05) scale(1.05,1)" text-anchor="end" class="t rl">N39</text>
<text transform="translate(592.10,887.17) rotate(0.05)" class="t" font-size="12.6">F, 72y</text>
<line x1="373.80" y1="909.70" x2="548.80" y2="909.70" class="ln"/>
<rect x="381.53" y="903.95" width="24.85" height="11.5" fill="#ffffff" class="bx"/>
<rect x="415.48" y="903.95" width="24.85" height="11.5" fill="#ffffff" class="bx"/>
<rect x="449.43" y="903.95" width="24.85" height="11.5" fill="#ffffff" class="bx"/>
<rect x="483.38" y="903.95" width="24.85" height="11.5" fill="#ffffff" class="bx"/>
<rect x="517.33" y="903.95" width="24.85" height="11.5" fill="#ffffff" class="bx"/>
<rect x="560.93" y="903.95" width="24.85" height="11.5" fill="#ffffff" class="bx"/>
<text transform="translate(368.10,913.00) rotate(0.05) scale(1.05,1)" text-anchor="end" class="t rl">C40</text>
<line x1="373.80" y1="924.60" x2="548.80" y2="924.60" class="ln"/>
<rect x="381.53" y="918.85" width="24.85" height="11.5" fill="#ffffff" class="bx"/>
<rect x="415.48" y="918.85" width="24.85" height="11.5" fill="#ffffff" class="bx"/>
<rect x="449.43" y="918.85" width="24.85" height="11.5" fill="#ffffff" class="bx"/>
<rect x="483.38" y="918.85" width="24.85" height="11.5" fill="#ffffff" class="bx"/>
<rect x="517.33" y="918.85" width="24.85" height="11.5" fill="#ffffff" class="bx"/>
<rect x="560.93" y="918.85" width="24.85" height="11.5" fill="#ffffff" class="bx"/>
<text transform="translate(368.10,927.90) rotate(0.05) scale(1.05,1)" text-anchor="end" class="t rl">N40</text>
<text transform="translate(592.10,920.35) rotate(0.05)" class="t" font-size="12.6">M, 72y</text>
<text transform="translate(61.40,56.00) rotate(-45)" class="h" font-style="italic">AB002340</text>
<text transform="translate(97.00,56.00) rotate(-45)" class="h" font-style="italic">MLH1</text>
<text transform="translate(133.30,56.00) rotate(-45)" class="h" font-style="italic">ITGA9</text>
<text transform="translate(169.50,56.00) rotate(-45)" class="h" font-style="italic">PLCD1</text>
<text transform="translate(205.50,56.00) rotate(-45)" class="h" font-style="italic">DLEC1</text>
<text transform="translate(244.00,56.00) rotate(-45)" class="h">BRAF</text>
<text transform="translate(390.90,55.70) rotate(-45)" class="h" font-style="italic">AB002340</text>
<text transform="translate(426.50,55.70) rotate(-45)" class="h" font-style="italic">MLH1</text>
<text transform="translate(462.80,55.70) rotate(-45)" class="h" font-style="italic">ITGA9</text>
<text transform="translate(499.00,55.70) rotate(-45)" class="h" font-style="italic">PLCD1</text>
<text transform="translate(535.00,55.70) rotate(-45)" class="h" font-style="italic">DLEC1</text>
<text transform="translate(573.50,55.70) rotate(-45)" class="h">BRAF</text>
<text transform="translate(0.4,10.7) rotate(0.05)" class="pl">a</text>
<text transform="translate(323.0,13.7) rotate(0.05)" class="pl">b</text>
<text transform="translate(0.6,568.0) rotate(0.05)" class="pl">c</text>
<text transform="translate(10.90,176.20) rotate(-90)" text-anchor="middle" class="v">MSI cases with <tspan font-style="italic">MLH1</tspan> methylation in N</text>
<text transform="translate(10.90,415.00) rotate(-90)" text-anchor="middle" class="v">MSS cases without <tspan font-style="italic">MLH1</tspan> methylation</text>
<text transform="translate(10.90,725.50) rotate(-90)" text-anchor="middle" class="v">Controls without neoplasia</text>
<text transform="translate(334.50,277.70) rotate(-90)" text-anchor="middle" class="v">Cases with regional 3p22 methylation and BRAF V600E in C</text>
<text transform="translate(334.50,715.40) rotate(-90)" text-anchor="middle" class="v">Cases without regional 3p22 methylation and BRAF wild-type in C</text>
<text transform="translate(3.30,965.20) rotate(0.05) scale(1.03,1)" class="kb" font-size="14.2">Key:</text>
<text transform="translate(46.30,932.90) rotate(0.05) scale(1.053,1)" class="k" font-size="13.4">Methylation density:</text>
<rect x="46.15" y="941.65" width="10.6" height="10.6" fill="#000000" class="bx"/>
<text transform="translate(67.10,950.30) rotate(0.05) scale(1.118,1)" class="k" font-size="12.6">PMR &gt;4</text>
<rect x="46.15" y="957.45" width="10.6" height="10.6" fill="#808080" class="bx"/>
<text transform="translate(67.10,965.90) rotate(0.05) scale(1.118,1)" class="k" font-size="12.6">PMR &gt;0.5-4</text>
<rect x="46.15" y="973.55" width="10.6" height="10.6" fill="#c0c0c0" class="bx"/>
<text transform="translate(67.10,982.10) rotate(0.05) scale(1.118,1)" class="k" font-size="12.6">PMR 0.1-0.5</text>
<rect x="46.15" y="989.95" width="10.6" height="10.6" fill="#ffffff" class="bx"/>
<text transform="translate(67.30,998.50) rotate(0.05) scale(1.08,1)" class="k" font-size="11.4">PMR 0</text>
<text transform="translate(195.90,941.40) rotate(0.05) scale(1.08,1)" class="k" font-size="13.5">BRAF:</text>
<rect x="196.4" y="949.05" width="10.5" height="10.5" fill="#000000" class="bx"/>
<text transform="translate(217.20,958.00) rotate(0.05) scale(1.075,1)" class="k" font-size="13.3">V600E mutant, dCt &lt;6.5</text>
<rect x="196.4" y="969.15" width="10.5" height="10.5" fill="#808080" class="bx"/>
<text transform="translate(217.20,977.60) rotate(0.05) scale(1.075,1)" class="k" font-size="13.3">V600E mutant, dCt 6.5-10</text>
<rect x="196.4" y="989.25" width="10.5" height="10.5" fill="#ffffff" class="bx"/>
<text transform="translate(217.20,998.70) rotate(0.05) scale(1.075,1)" class="k" font-size="13.3">V600 wild-type, dCt &gt;11</text>
</svg>
</body>
</html>
